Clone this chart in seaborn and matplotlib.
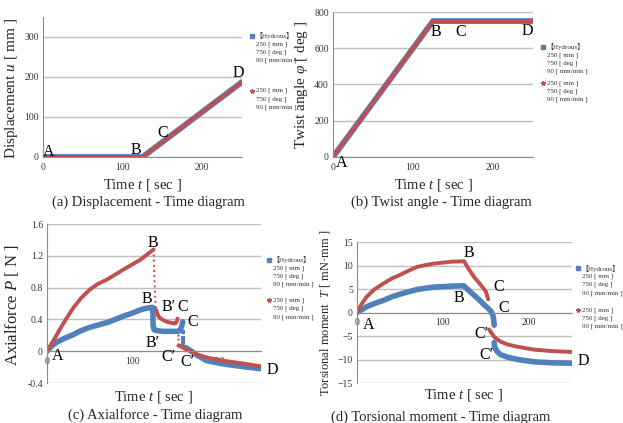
import numpy as np
import pandas as pd
import matplotlib
matplotlib.use('Agg')
import matplotlib.pyplot as plt
from matplotlib.lines import Line2D
import seaborn as sns

sns.set_style('white')
plt.rcParams['font.family'] = ['Liberation Serif', 'Noto Sans CJK JP', 'DejaVu Sans']
plt.rcParams['mathtext.fontset'] = 'custom'
plt.rcParams['mathtext.rm'] = 'Liberation Serif'
plt.rcParams['mathtext.it'] = 'Liberation Serif:italic'

BLUE = '#4F81BD'
RED = '#C0504D'
GRID = '#BFBFBF'
TXT = '#333333'

# ---- data ----
# (a) displacement
t_disp = [0, 125, 250]
u_hyd = [0, 0, 187.5]
u_dry = [0, 0, 187.5]

# (b) twist angle
t_twist = [0, 125, 250]
phi_hyd = [0, 750, 750]
phi_dry = [0, 750, 750]

# (c) axial force, hydrous (blue)
P_hyd_t1 = [0, 5, 11, 20, 31, 40, 50, 60, 70, 80, 89, 100, 109, 116, 122, 123.5, 124, 125, 128, 135, 140, 147, 153, 156, 157.5, 158.5]
P_hyd_1 = [0, 0.06, 0.11, 0.16, 0.21, 0.26, 0.30, 0.33, 0.36, 0.40, 0.44, 0.48, 0.52, 0.54, 0.55, 0.55, 0.32, 0.27, 0.26, 0.25, 0.25, 0.25, 0.25, 0.27, 0.32, 0.37]
P_hyd_tj = [158.5, 158.5, 158.5]
P_hyd_j = [0.24, 0.17, 0.12]
P_hyd_t2 = [158.5, 160, 163, 170, 175, 187, 206, 226, 250]
P_hyd_2 = [0.06, 0.05, 0.04, -0.01, -0.05, -0.12, -0.16, -0.19, -0.22]

# (c) axial force, second case (red)
P_dry_t1 = [0, 5, 10, 15, 22, 31, 40, 50, 60, 70, 89, 109, 124.5]
P_dry_1 = [0, 0.09, 0.18, 0.275, 0.40, 0.55, 0.67, 0.775, 0.85, 0.9, 1.025, 1.15, 1.28]
P_dry_td = [124.5, 125.5, 126.5, 127.5]
P_dry_d = [1.28, 0.9, 0.65, 0.52]
P_dry_t2 = [127.5, 130, 133, 136, 140, 144, 148, 150, 151.5, 152.5]
P_dry_2 = [0.52, 0.44, 0.41, 0.39, 0.37, 0.36, 0.35, 0.35, 0.37, 0.41]
P_dry_tj = [152.8, 153.0, 153.2, 153.4]
P_dry_j = [0.275, 0.21, 0.15, 0.09]
P_dry_t3 = [153.6, 155, 160, 167, 175, 187, 206, 226, 250]
P_dry_3 = [0.07, 0.07, 0.04, 0.0, -0.04, -0.08, -0.12, -0.15, -0.19]

# (d) torsional moment, hydrous (blue)
T_hyd_t1 = [0, 11, 20, 31, 40, 50, 60, 70, 89, 109, 124, 130, 136, 142, 148, 153, 156, 158, 159, 159.5]
T_hyd_1 = [0, 1.2, 1.9, 2.6, 3.3, 3.9, 4.4, 4.9, 5.4, 5.6, 5.7, 4.7, 3.7, 2.7, 1.6, 0.8, 0.2, -0.6, -1.6, -2.7]
T_hyd_t2 = [159.5, 160, 163, 167, 175, 187, 206, 226, 250]
T_hyd_2 = [-6.4, -7.4, -8.3, -9.0, -9.5, -10.0, -10.5, -10.7, -10.8]

# (d) torsional moment, second case (red)
T_dry_t1 = [0, 5, 11, 20, 31, 40, 50, 60, 70, 80, 89, 109, 124.5, 130, 136, 144, 150, 152.5]
T_dry_1 = [0, 1.7, 3.3, 4.9, 6.2, 7.2, 8.0, 8.9, 9.7, 10.1, 10.4, 10.8, 10.9, 9.2, 7.6, 5.85, 4.4, 2.8]
T_dry_t2 = [153.5, 160, 167, 175, 187, 206, 226, 250]
T_dry_2 = [-3.6, -5.3, -6.2, -6.8, -7.3, -7.9, -8.2, -8.4]

legend_lines = ['250 [ mm ]', '750 [ deg ]', '90 [ mm/min ]']

W, H = 623, 423


def box(l, t, r, b):
    return [l / W, 1 - b / H, (r - l) / W, (b - t) / H]


def draw(ax, segs, color, lw, ls='-'):
    rows = []
    for k, (tt, vv) in enumerate(segs):
        rows += [(k, a, b) for a, b in zip(tt, vv)]
    df = pd.DataFrame(rows, columns=['seg', 't', 'v'])
    sns.lineplot(data=df, x='t', y='v', units='seg', estimator=None, sort=False,
                 color=color, lw=lw, ls=ls, ax=ax, legend=False)


def dots(ax, tt, vv, color, marker, size):
    sns.scatterplot(x=tt, y=vv, color=color, marker=marker, s=size,
                    linewidth=0, ax=ax, legend=False)


def style(ax, xlim, ylim, yticks, xlab, ylab, xl, yl, ylab_size=11, cross0=False):
    ax.set_xlim(*xlim)
    ax.set_ylim(*ylim)
    ax.set_xticks([0, 100, 200])
    ax.set_yticks(yticks)
    ax.yaxis.grid(True, color=GRID, lw=1.0)
    ax.set_axisbelow(True)
    for s in ['top', 'right']:
        ax.spines[s].set_visible(False)
    ax.spines['left'].set_color('#8C8C8C')
    ax.spines['bottom'].set_color('#8C8C8C')
    if cross0:
        ax.spines['bottom'].set_position(('data', 0))
    ax.tick_params(axis='x', length=2.5, width=0.8, color='#8C8C8C', labelsize=7, labelcolor=TXT, pad=1.5)
    ax.tick_params(axis='y', length=0, labelsize=7, labelcolor=TXT, pad=3)
    ax.set_xlabel(xlab, fontsize=10.5)
    ax.set_ylabel(ylab, fontsize=ylab_size)
    ax.xaxis.set_label_coords(*xl)
    ax.yaxis.set_label_coords(*yl)
    ax.xaxis.label.set_va('center')
    ax.yaxis.label.set_va('center')


def letters(ax, items, size=11.5):
    for s, x, y in items:
        ax.text(x, y, s, fontsize=size, ha='center', va='center', clip_on=False, color='black')


def legend(fig, x, y_h, y_r, dy):
    fig.add_artist(Line2D([x / W], [1 - y_h / H], marker='s', ms=3.2, color=BLUE, lw=0,
                          transform=fig.transFigure))
    fig.text((x + 3) / W, 1 - y_h / H, '【Hydrous】', fontsize=5, color=TXT, va='center')
    fig.add_artist(Line2D([x / W], [1 - y_r / H], marker='*', ms=3.2, color=RED, lw=0,
                          transform=fig.transFigure))
    for k, s in enumerate(legend_lines):
        fig.text((x + 4) / W, 1 - (y_h + (k + 1) * dy) / H, s, fontsize=5, color=TXT, va='center')
        fig.text((x + 4) / W, 1 - (y_r + k * dy) / H, s, fontsize=5, color=TXT, va='center')


fig = plt.figure(figsize=(6.23, 4.23), dpi=100)

# (a)
ax = fig.add_axes(box(43, 17, 242, 157))
draw(ax, [(t_disp, u_hyd)], BLUE, 4.2)
draw(ax, [(t_disp, u_dry)], RED, 2.8)
style(ax, (0, 250), (0, 350), [0, 100, 200, 300], 'Time $t$ [ sec ]',
      'Displacement $u$ [ mm ]', (0.5, -0.2), (-0.156, 0.49))
letters(ax, [('A', 7, 12), ('B', 117, 17), ('C', 150, 60), ('D', 245, 211)])

# (b)
ax = fig.add_axes(box(333, 12, 533, 157))
draw(ax, [(t_twist, phi_hyd)], BLUE, 4.2)
draw(ax, [(t_twist, phi_dry)], RED, 2.8)
style(ax, (0, 250), (0, 800), [0, 200, 400, 600, 800], 'Time $t$ [ sec ]',
      r'Twist angle $\varphi$ [ deg ]', (0.5, -0.193), (-0.155, 0.5))
letters(ax, [('A', 11, -33), ('B', 129, 690), ('C', 159, 690), ('D', 243, 695)])

# (c)
ax = fig.add_axes(box(47, 224, 261, 383))
draw(ax, [(P_hyd_t1, P_hyd_1), (P_hyd_t2, P_hyd_2)], BLUE, 4.0)
dots(ax, P_hyd_tj, P_hyd_j, BLUE, 's', 10)
draw(ax, [(P_dry_t1, P_dry_1), (P_dry_t2, P_dry_2), (P_dry_t3, P_dry_3)], RED, 2.8)
draw(ax, [(P_dry_td, P_dry_d)], RED, 1.4, ls=':')
dots(ax, P_dry_tj, P_dry_j, RED, '*', 8)
style(ax, (0, 250), (-0.4, 1.6), [-0.4, 0, 0.4, 0.8, 1.2, 1.6], 'Time $t$ [ sec ]',
      'Axialforce $P$ [ N ]', (0.495, -0.088), (-0.164, 0.49), ylab_size=12, cross0=True)
ax.set_yticklabels(['-0.4', '0', '0.4', '0.8', '1.2', '1.6'])
letters(ax, [('A', 12, -0.06), ('B', 124, 1.36), ('B', 117, 0.66), ('B\u2032', 142, 0.56),
             ('B\u2032', 124, 0.10), ('C', 159, 0.55), ('C', 170, 0.37),
             ('C\u2032', 142, -0.07), ('C\u2032', 164, -0.13), ('D', 263, -0.24)])

# (d)
ax = fig.add_axes(box(357, 242, 572, 383))
draw(ax, [(T_hyd_t1, T_hyd_1), (T_hyd_t2, T_hyd_2)], BLUE, 4.0)
draw(ax, [(T_dry_t1, T_dry_1), (T_dry_t2, T_dry_2)], RED, 2.8)
style(ax, (0, 250), (-15, 15), [-15, -10, -5, 0, 5, 10, 15], 'Time $t$ [ sec ]',
      'Torsional moment  $T$ [ mN\u00b7mm ]', (0.493, -0.085), (-0.149, 0.5), ylab_size=9, cross0=True)
letters(ax, [('A', 13, -2.6), ('B', 130, 12.6), ('B', 119, 3.0), ('C', 165, 5.4),
             ('C', 171, 0.9), ('C\u2032', 145, -4.5), ('C\u2032', 150, -9.0), ('D', 263, -10.3)])

# legends
legend(fig, 252, 35.7, 90.7, 8.2)
legend(fig, 543, 46.7, 83.3, 8.2)
legend(fig, 269, 259.5, 300, 8.4)
legend(fig, 578, 268.3, 310, 8.2)

# captions
fig.text(148 / W, 1 - 202 / H, '(a) Displacement - Time diagram', fontsize=10.5, ha='center', va='center')
fig.text(441 / W, 1 - 202 / H, '(b) Twist angle - Time diagram', fontsize=10.5, ha='center', va='center')
fig.text(155 / W, 1 - 415 / H, '(c) Axialforce - Time diagram', fontsize=10.5, ha='center', va='center')
fig.text(441 / W, 1 - 417 / H, '(d) Torsional moment - Time diagram', fontsize=10.5, ha='center', va='center')

fig.savefig('out.png', dpi=100)
